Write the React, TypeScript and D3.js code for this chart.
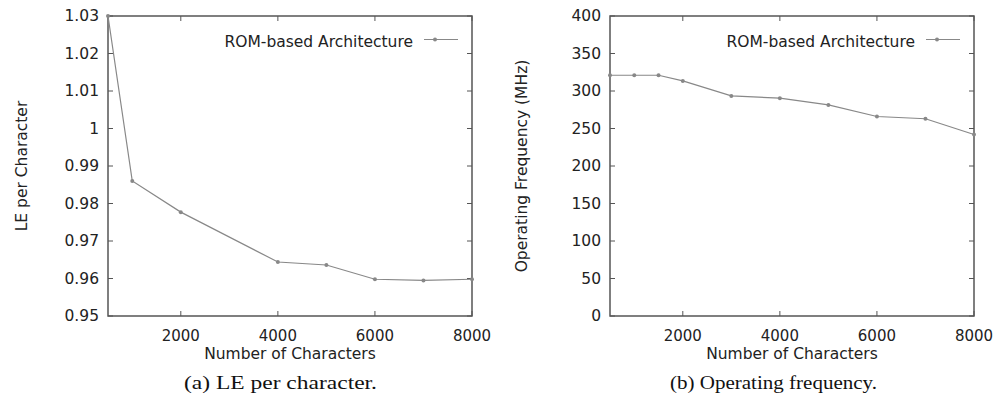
import React from 'react';
import * as d3 from 'd3';

// number of characters on the x axis
const leChars = [500, 1000, 2000, 4000, 5000, 6000, 7000, 8000];
const lePerChar = [1.03, 0.986, 0.9777, 0.9644, 0.9636, 0.9598, 0.9595, 0.9598];

const freqChars = [500, 1000, 1500, 2000, 3000, 4000, 5000, 6000, 7000, 8000];
const freqMHz = [321, 321, 321, 313.5, 293.5, 290.5, 281.5, 266, 263, 242];

const xTicks = [2000, 4000, 6000, 8000];
const leTicks = [0.95, 0.96, 0.97, 0.98, 0.99, 1, 1.01, 1.02, 1.03];
const freqTicks = [0, 50, 100, 150, 200, 250, 300, 350, 400];

const seriesName = 'ROM-based Architecture';

const SANS = 'DejaVu Sans, sans-serif';
const SERIF = 'Liberation Serif, Times New Roman, serif';
const FRAME = '#555';
const LINE = '#888';

type PanelProps = {
  x0: number;
  x1: number;
  xs: number[];
  ys: number[];
  yTicks: number[];
  yDomain: [number, number];
  yTitle: string;
  yTitleX: number;
  caption: string;
  captionX: number;
  captionW: number;
};

const Panel = ({ x0, x1, xs, ys, yTicks, yDomain, yTitle, yTitleX, caption, captionX, captionW }: PanelProps) => {
  const top = 16;
  const bottom = 316;
  const x = d3.scaleLinear().domain([500, 8000]).range([x0, x1]);
  const y = d3.scaleLinear().domain(yDomain).range([bottom, top]);
  const pts = xs.map((v, i) => [x(v), y(ys[i])] as [number, number]);
  const line = d3.line()(pts) || '';
  const tick = 5;
  const midX = (x0 + x1) / 2;

  return (
    <g>
      {/* inward ticks on all four sides */}
      {yTicks.map(t => (
        <g key={'y' + t}>
          <line x1={x0} x2={x0 + tick} y1={y(t)} y2={y(t)} stroke={FRAME} strokeWidth={1} />
          <line x1={x1} x2={x1 - tick} y1={y(t)} y2={y(t)} stroke={FRAME} strokeWidth={1} />
          <text x={x0 - 9} y={y(t)} dy="0.35em" textAnchor="end" fontFamily={SANS} fontSize={15.5} fill="#222">
            {String(t)}
          </text>
        </g>
      ))}
      {xTicks.map(t => (
        <g key={'x' + t}>
          <line x1={x(t)} x2={x(t)} y1={bottom} y2={bottom - tick} stroke={FRAME} strokeWidth={1} />
          <line x1={x(t)} x2={x(t)} y1={top} y2={top + tick} stroke={FRAME} strokeWidth={1} />
          <text x={x(t)} y={340.5} textAnchor="middle" fontFamily={SANS} fontSize={15} fill="#222">
            {t}
          </text>
        </g>
      ))}

      <rect x={x0} y={top} width={x1 - x0} height={bottom - top} fill="none" stroke={FRAME} strokeWidth={1.5} />

      <path d={line} fill="none" stroke={LINE} strokeWidth={1.2} />
      {pts.map((p, i) => (
        <circle key={i} cx={p[0]} cy={p[1]} r={2} fill={LINE} />
      ))}

      {/* legend */}
      <text x={x1 - 59} y={46.5} textAnchor="end" fontFamily={SANS} fontSize={15.5} fill="#222">
        {seriesName}
      </text>
      <line x1={x1 - 48} x2={x1 - 14} y1={39.5} y2={39.5} stroke={LINE} strokeWidth={1.2} />
      <circle cx={x1 - 37} cy={39.5} r={2} fill={LINE} />

      <text x={midX} y={359} textAnchor="middle" fontFamily={SANS} fontSize={15.5} fill="#222">
        Number of Characters
      </text>
      <text
        transform={`translate(${yTitleX},${(top + bottom) / 2}) rotate(-90)`}
        textAnchor="middle"
        fontFamily={SANS}
        fontSize={15.5}
        fill="#222"
      >
        {yTitle}
      </text>
      <text
        x={captionX}
        y={388.5}
        textAnchor="middle"
        fontFamily={SERIF}
        fontSize={19}
        fill="#111"
        textLength={captionW}
        lengthAdjust="spacingAndGlyphs"
      >
        {caption}
      </text>
    </g>
  );
};

export default function App() {
  return (
    <svg width={995} height={394} style={{ position: 'absolute', left: 0, top: 0, background: '#fff' }}>
      <rect width={995} height={394} fill="#fff" />
      <Panel
        x0={108}
        x1={472}
        xs={leChars}
        ys={lePerChar}
        yTicks={leTicks}
        yDomain={[0.95, 1.03]}
        yTitle="LE per Character"
        yTitleX={26.5}
        caption="(a) LE per character."
        captionX={280.5}
        captionW={193}
      />
      <Panel
        x0={610}
        x1={974}
        xs={freqChars}
        ys={freqMHz}
        yTicks={freqTicks}
        yDomain={[0, 400]}
        yTitle="Operating Frequency (MHz)"
        yTitleX={526.5}
        caption="(b) Operating frequency."
        captionX={773.5}
        captionW={207}
      />
    </svg>
  );
}
